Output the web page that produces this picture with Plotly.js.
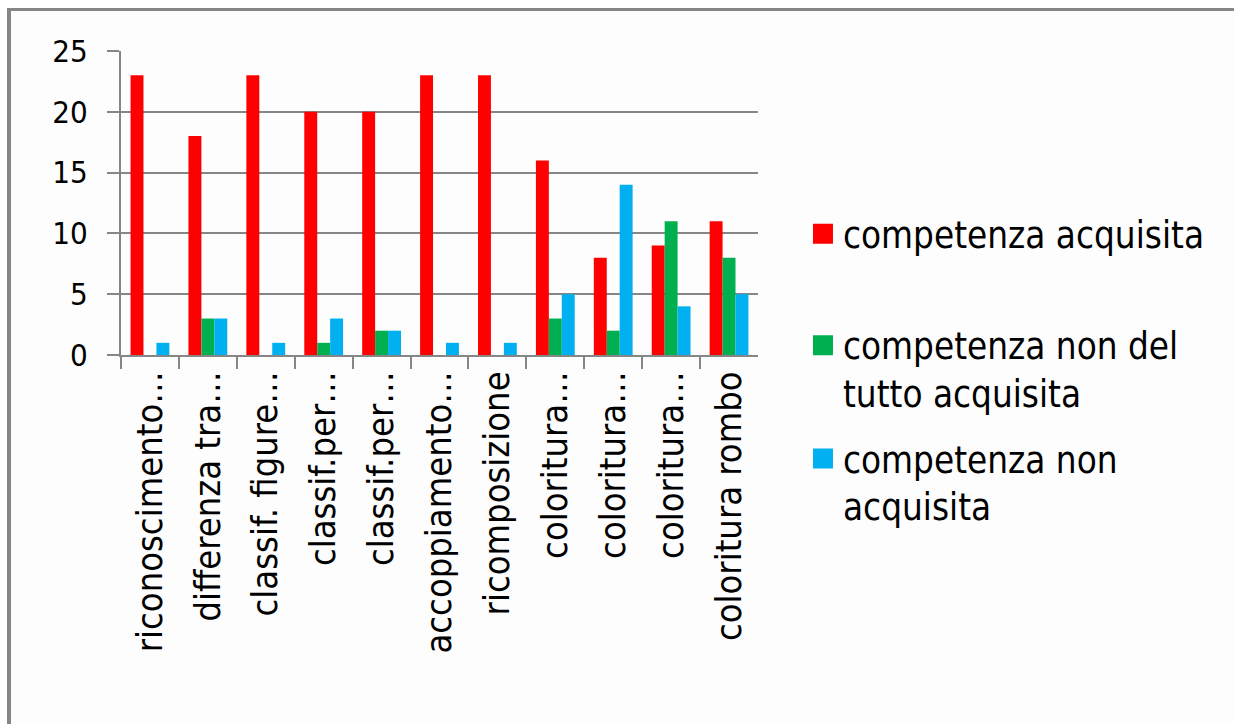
<!DOCTYPE html>
<html>
<head>
<meta charset="utf-8">
<script src="https://cdn.plot.ly/plotly-3.0.1.min.js"></script>
<style>
  html, body { margin: 0; padding: 0; background: #ffffff; overflow: hidden; }
  #frame { position: absolute; left: 7px; top: 8px; width: 1400px; height: 800px;
           border-left: 4px solid #868686; border-top: 3px solid #868686; box-sizing: border-box; background: #fdfdfd; }
  #chart { position: absolute; left: 0; top: 0; width: 1234px; height: 724px; }
</style>
</head>
<body>
<div id="frame"></div>
<div id="chart"></div>
<script>
const categories = [
  "riconoscimento…",
  "differenza tra…",
  "classif. figure…",
  "classif.per…",
  "classif.per…",
  "accoppiamento…",
  "ricomposizione",
  "coloritura…",
  "coloritura…",
  "coloritura…",
  "coloritura rombo"
];
const seriesNames = [
  "competenza acquisita",
  "competenza non del<br>tutto acquisita",
  "competenza non<br>acquisita"
];
const acquisita        = [23, 18, 23, 20, 20, 23, 23, 16, 8, 9, 11];
const nonDelTutto      = [0, 3, 0, 1, 2, 0, 0, 3, 2, 11, 8];
const nonAcquisita     = [1, 3, 1, 3, 2, 1, 1, 5, 14, 4, 5];
const yTicks = [0, 5, 10, 15, 20, 25];

const colors = ["#ff0000", "#00b050", "#00b0f0"];
const FONT = "DejaVu Sans Condensed, DejaVu Sans, sans-serif";
const GRID = "#868686";
const legendIds = ["legend", "legend2", "legend3"];

// category slots (repeated labels stay separate)
const slots = categories.map((c, i) => i);
const boundaries = categories.slice(1).map((c, i) => i + 0.5).concat([-0.5]);

const barTraces = [acquisita, nonDelTutto, nonAcquisita].map((vals, i) => ({
  type: "bar",
  name: seriesNames[i],
  x: slots,
  y: vals,
  text: categories,
  marker: { color: colors[i], line: { width: 0 } },
  showlegend: false,
  hoverinfo: "text+y+name",
  textposition: "none"
}));

// legend-only entries (square swatches like the original legend keys)
const legendTraces = seriesNames.map((name, i) => ({
  type: "scatter",
  mode: "markers",
  name: name,
  x: [null],
  y: [null],
  marker: { symbol: "square", size: 15, color: colors[i], line: { color: colors[i], width: 5 } },
  legend: legendIds[i],
  hoverinfo: "skip"
}));

const legendBase = {
  xref: "paper", yref: "paper", xanchor: "left", yanchor: "middle",
  x: 1.0706, bgcolor: "rgba(0,0,0,0)", borderwidth: 0,
  font: { family: FONT, size: 36.5, color: "#000000" }, valign: "top"
};

const layout = {
  width: 1234, height: 724,
  margin: { l: 121, r: 476, t: 51, b: 369, pad: 0 },
  paper_bgcolor: "rgba(0,0,0,0)",
  plot_bgcolor: "rgba(0,0,0,0)",
  barmode: "group",
  bargap: 0.33,
  bargroupgap: 0,
  showlegend: true,
  legend: Object.assign({}, legendBase, { y: 0.398 }),
  legend2: Object.assign({}, legendBase, { y: -0.046 }),
  legend3: Object.assign({}, legendBase, { y: -0.419 }),
  xaxis: {
    type: "linear",
    range: [-0.5, categories.length - 0.5],
    tickmode: "array",
    tickvals: slots,
    ticktext: categories,
    tickangle: -90,
    ticks: "",
    ticklen: 12,
    minor: { tickmode: "array", tickvals: boundaries, ticks: "outside", ticklen: 12, tickwidth: 2, tickcolor: GRID, showgrid: false },
    showline: true, linecolor: GRID, linewidth: 2,
    showgrid: false, zeroline: false,
    tickfont: { family: FONT, size: 36, color: "#000000" },
    fixedrange: true
  },
  yaxis: {
    range: [0, 25],
    tickvals: yTicks,
    ticktext: yTicks.map(String),
    ticks: "outside", ticklen: 12, tickwidth: 2, tickcolor: GRID,
    ticklabelstandoff: 13,
    showline: true, linecolor: GRID, linewidth: 2,
    showgrid: true, gridcolor: GRID, gridwidth: 2,
    zeroline: false,
    tickfont: { family: FONT, size: 31, color: "#000000" },
    fixedrange: true
  }
};

Plotly.newPlot("chart", barTraces.concat(legendTraces), layout, { displayModeBar: false, staticPlot: true });
</script>
</body>
</html>
